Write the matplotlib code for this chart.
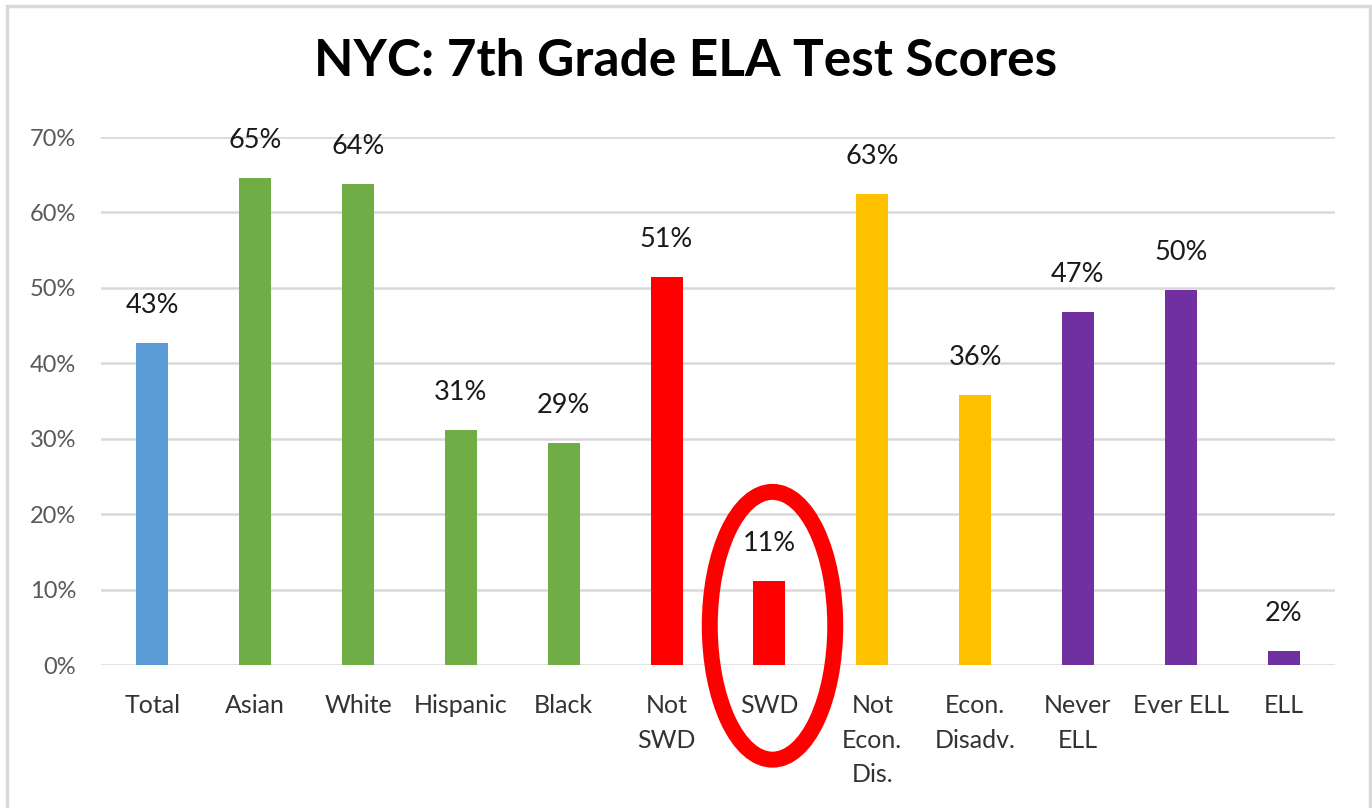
import matplotlib.pyplot as plt
from matplotlib.patches import Ellipse, Rectangle
from matplotlib.ticker import PercentFormatter

categories = ["Total", "Asian", "White", "Hispanic", "Black", "Not\nSWD", "SWD",
              "Not\nEcon.\nDis.", "Econ.\nDisadv.", "Never\nELL", "Ever ELL", "ELL"]
scores = [0.427, 0.646, 0.638, 0.312, 0.294, 0.514, 0.112, 0.625, 0.358, 0.468, 0.497, 0.019]
score_labels = ["43%", "65%", "64%", "31%", "29%", "51%", "11%", "63%", "36%", "47%", "50%", "2%"]
bar_colors = ["#5B9BD5", "#70AD47", "#70AD47", "#70AD47", "#70AD47", "#FF0000", "#FF0000",
              "#FFC000", "#FFC000", "#7030A0", "#7030A0", "#7030A0"]
y_ticks = [0, 0.1, 0.2, 0.3, 0.4, 0.5, 0.6, 0.7]
highlight = "SWD"

plt.rcParams['font.family'] = ['Lato', 'DejaVu Sans']

fig = plt.figure(figsize=(13.72, 8.08), dpi=100)
ax = fig.add_axes([101 / 1372, 143 / 808, 1234 / 1372, 528 / 808])

# chart border
fig.patches.append(Rectangle((7 / 1372, -0.05), 1363 / 1372, 1.05 - 6 / 808,
                             transform=fig.transFigure, fill=False,
                             edgecolor="#d9d9d9", linewidth=2.5))

x = list(range(len(categories)))
ax.bar(x, scores, width=0.31, color=bar_colors, zorder=3)

for i, (v, lab) in enumerate(zip(scores, score_labels)):
    ax.annotate(lab, (i, v), xytext=(0, 27), textcoords="offset points",
                ha="center", va="center", fontsize=19.5, color="#1a1a1a")

ax.set_xlim(-0.5, len(categories) - 0.5)
ax.set_ylim(0, 0.7)
ax.set_yticks(y_ticks)
ax.yaxis.set_major_formatter(PercentFormatter(1.0, decimals=0))
ax.set_xticks(x)
ax.set_xticklabels(categories, fontsize=18, color="#333333", linespacing=1.6, va="top")
ax.tick_params(axis="y", length=0, pad=18, labelsize=17, labelcolor="#595959")
ax.tick_params(axis="x", length=0, pad=21)
ax.grid(axis="y", color="#d9d9d9", linewidth=1.8, zorder=0)
for s in ax.spines.values():
    s.set_visible(False)

# red circle around the SWD bar
hi = categories.index(highlight)
ax.add_patch(Ellipse((hi + 0.03, 0.052), 1.22, 0.355, fill=False, edgecolor="#FF0000",
                     linewidth=11.5, clip_on=False, zorder=4))

fig.text(0.5, 1 - 62 / 808, "NYC: 7th Grade ELA Test Scores", ha="center", va="center",
         fontsize=37, fontweight="bold", color="black")

fig.savefig("out.png", dpi=100)
